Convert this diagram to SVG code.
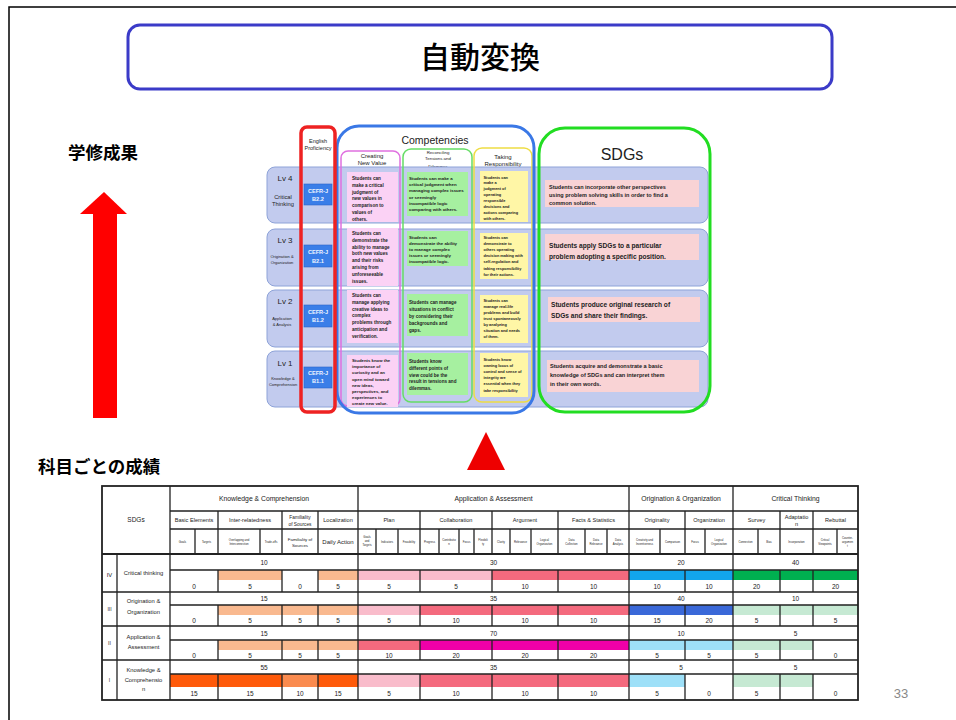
<svg xmlns="http://www.w3.org/2000/svg" width="956" height="720" viewBox="0 0 956 720">
<style>
.jp{font-family:"Noto Sans CJK JP","Noto Sans CJK SC",sans-serif;fill:#000}
.s{font-family:"Liberation Sans",Arial,sans-serif;fill:#222}
.ct{font-family:"Liberation Sans",Arial,sans-serif;font-weight:bold;fill:#222;font-size:4.6px}
.band{fill:#c2cbee;stroke:#8ea3d8;stroke-width:1}
.cefr{fill:#3a7ee8;stroke:#2c64c8;stroke-width:0.6}
.cw{font-family:"Liberation Sans",Arial,sans-serif;font-weight:bold;fill:#eef3ff;font-size:5.6px;text-anchor:middle}
.t{font-family:"Liberation Sans",Arial,sans-serif;fill:#222;text-anchor:middle}
.tl{fill:none;stroke:#222;stroke-width:1.3}
</style>
<rect width="956" height="720" fill="#fff"/>
<path d="M9,720 V7 H956" fill="none" stroke="#000" stroke-width="1.5"/>

<g id="title">
<rect x="128" y="25" width="704" height="64" rx="12" fill="#fff" stroke="#3b3bc8" stroke-width="3"/>
<text class="jp" x="480" y="68" font-size="30" font-weight="500" text-anchor="middle">自動変換</text>
</g>

<g id="label-outcome"><text class="jp" x="68" y="159" font-size="17.5" font-weight="bold">学修成果</text></g>
<g id="label-grades"><text class="jp" x="38" y="473" font-size="17.5" font-weight="bold">科目ごとの成績</text></g>
<g id="page-number"><text class="s" x="901" y="698" font-size="13" text-anchor="middle" style="fill:#888">33</text></g>

<g id="connectors">
<rect x="93" y="213" width="24" height="205" fill="#ff0000"/>
<polygon points="80,214 104,192 127,214" fill="#ff0000"/>
<polygon points="467,470 486,432 505,470" fill="#ee0000"/>
</g>

<g id="competency-matrix">
<text class="s" x="318" y="143" font-size="5.5" text-anchor="middle">English</text>
<text class="s" x="318" y="149.5" font-size="5.5" text-anchor="middle">Proficiency</text>
<text class="s" x="435" y="144" font-size="10.5" text-anchor="middle">Competencies</text>
<text class="s" x="372" y="158" font-size="6" text-anchor="middle">Creating</text>
<text class="s" x="372" y="165" font-size="6" text-anchor="middle">New Value</text>
<text class="s" x="438" y="154" font-size="4.4" text-anchor="middle">Reconciling</text>
<text class="s" x="438" y="160" font-size="4.4" text-anchor="middle">Tensions and</text>
<text class="s" x="438" y="168" font-size="4.4" text-anchor="middle">Dilemmas</text>
<text class="s" x="503" y="159" font-size="6" text-anchor="middle">Taking</text>
<text class="s" x="503" y="165.5" font-size="6" text-anchor="middle">Responsibility</text>
<text class="s" x="622" y="160" font-size="16" text-anchor="middle">SDGs</text>

<g id="row-lv4"><rect class="band" x="267" y="167" width="441" height="56" rx="8"/>
<text class="s" x="285" y="181" font-size="8" text-anchor="middle">Lv 4</text>
<text class="s" x="283" y="199" font-size="5.8" text-anchor="middle">Critical</text>
<text class="s" x="283" y="206" font-size="5.8" text-anchor="middle">Thinking</text></g>
<g id="row-lv3"><rect class="band" x="267" y="229" width="441" height="57" rx="8"/>
<text class="s" x="285" y="243" font-size="8" text-anchor="middle">Lv 3</text>
<text class="s" x="282" y="257.5" font-size="4" text-anchor="middle">Origination &amp;</text>
<text class="s" x="282" y="263.5" font-size="4" text-anchor="middle">Organization</text></g>
<g id="row-lv2"><rect class="band" x="267" y="290" width="441" height="57" rx="8"/>
<text class="s" x="285" y="304" font-size="8" text-anchor="middle">Lv 2</text>
<text class="s" x="282" y="319.5" font-size="4" text-anchor="middle">Application</text>
<text class="s" x="282" y="325.5" font-size="4" text-anchor="middle">&amp; Analysis</text></g>
<g id="row-lv1"><rect class="band" x="267" y="351" width="441" height="56" rx="8"/>
<text class="s" x="285" y="366" font-size="8" text-anchor="middle">Lv 1</text>
<text class="s" x="283" y="379.5" font-size="4" text-anchor="middle">Knowledge &amp;</text>
<text class="s" x="283" y="385.5" font-size="4" text-anchor="middle">Comprehension</text></g>

<rect x="341" y="151" width="59" height="255" rx="7" fill="none" stroke="#e070e0" stroke-width="1.5"/>
<rect x="403" y="149" width="69" height="253" rx="8" fill="none" stroke="#66dd66" stroke-width="1.5"/>
<rect x="474" y="148" width="58" height="254" rx="8" fill="none" stroke="#eedd44" stroke-width="1.5"/>

<g id="creating-cells" fill="#fbd2f5">
<rect x="347" y="172" width="51" height="50"/>
<rect x="347" y="228" width="51" height="58"/>
<rect x="347" y="290" width="51" height="53"/>
<rect x="347" y="355" width="51" height="52"/>
</g>
<g id="reconciling-cells" fill="#a6f0a0">
<rect x="407" y="172" width="61" height="44"/>
<rect x="407" y="231" width="61" height="35"/>
<rect x="407" y="294" width="61" height="42"/>
<rect x="407" y="353" width="61" height="42"/>
</g>
<g id="taking-cells" fill="#fff6a6">
<rect x="480" y="171" width="48" height="51"/>
<rect x="480" y="233" width="48" height="46"/>
<rect x="480" y="295" width="48" height="48"/>
<rect x="480" y="353" width="48" height="44"/>
</g>
<g id="sdg-cells" fill="#f9d3d5">
<rect x="545" y="180" width="154" height="27"/>
<rect x="545" y="234" width="154" height="26"/>
<rect x="548" y="297" width="152" height="25"/>
<rect x="547" y="360" width="152" height="32"/>
</g>

<g id="creating-text">
<text class="ct" y="180"><tspan x="352">Students can</tspan><tspan x="352" dy="6.8">make a critical</tspan><tspan x="352" dy="6.8">judgment of</tspan><tspan x="352" dy="6.8">new values in</tspan><tspan x="352" dy="6.8">comparison to</tspan><tspan x="352" dy="6.8">values of</tspan><tspan x="352" dy="6.8">others.</tspan></text>
<text class="ct" y="235"><tspan x="352">Students can</tspan><tspan x="352" dy="6.8">demonstrate the</tspan><tspan x="352" dy="6.8">ability to manage</tspan><tspan x="352" dy="6.8">both new values</tspan><tspan x="352" dy="6.8">and their risks</tspan><tspan x="352" dy="6.8">arising from</tspan><tspan x="352" dy="6.8">unforeseeable</tspan><tspan x="352" dy="6.8">issues.</tspan></text>
<text class="ct" y="297"><tspan x="352">Students can</tspan><tspan x="352" dy="6.8">manage applying</tspan><tspan x="352" dy="6.8">creative ideas to</tspan><tspan x="352" dy="6.8">complex</tspan><tspan x="352" dy="6.8">problems through</tspan><tspan x="352" dy="6.8">anticipation and</tspan><tspan x="352" dy="6.8">verification.</tspan></text>
<text class="ct" y="362" style="font-size:4.3px"><tspan x="352">Students know the</tspan><tspan x="352" dy="6.2">importance of</tspan><tspan x="352" dy="6.2">curiosity and an</tspan><tspan x="352" dy="6.2">open mind toward</tspan><tspan x="352" dy="6.2">new ideas,</tspan><tspan x="352" dy="6.2">perspectives, and</tspan><tspan x="352" dy="6.2">experiences to</tspan><tspan x="352" dy="6.2">create new value.</tspan></text>
</g>
<g id="reconciling-text">
<text class="ct" y="180" style="font-size:4.4px"><tspan x="409">Students can make a</tspan><tspan x="409" dy="6.2">critical judgment when</tspan><tspan x="409" dy="6.2">managing complex issues</tspan><tspan x="409" dy="6.2">or seemingly</tspan><tspan x="409" dy="6.2">incompatible logic</tspan><tspan x="409" dy="6.2">comparing with others.</tspan></text>
<text class="ct" y="239" style="font-size:4.4px"><tspan x="409">Students can</tspan><tspan x="409" dy="6.1">demonstrate the ability</tspan><tspan x="409" dy="6.1">to manage complex</tspan><tspan x="409" dy="6.1">issues or seemingly</tspan><tspan x="409" dy="6.1">incompatible logic.</tspan></text>
<text class="ct" y="304"><tspan x="409">Students can manage</tspan><tspan x="409" dy="7">situations in conflict</tspan><tspan x="409" dy="7">by considering their</tspan><tspan x="409" dy="7">backgrounds and</tspan><tspan x="409" dy="7">gaps.</tspan></text>
<text class="ct" y="363"><tspan x="409">Students know</tspan><tspan x="409" dy="6.8">different points of</tspan><tspan x="409" dy="6.8">view could be the</tspan><tspan x="409" dy="6.8">result in tensions and</tspan><tspan x="409" dy="6.8">dilemmas.</tspan></text>
</g>
<g id="taking-text">
<text class="ct" y="178.5" style="font-size:3.9px"><tspan x="483.5">Students can</tspan><tspan x="483.5" dy="5.9">make a</tspan><tspan x="483.5" dy="5.9">judgment of</tspan><tspan x="483.5" dy="5.9">operating</tspan><tspan x="483.5" dy="5.9">responsible</tspan><tspan x="483.5" dy="5.9">decisions and</tspan><tspan x="483.5" dy="5.9">actions comparing</tspan><tspan x="483.5" dy="5.9">with others.</tspan></text>
<text class="ct" y="239" style="font-size:3.9px"><tspan x="483.5">Students can</tspan><tspan x="483.5" dy="6.1">demonstrate to</tspan><tspan x="483.5" dy="6.1">others operating</tspan><tspan x="483.5" dy="6.1">decision making with</tspan><tspan x="483.5" dy="6.1">self-regulation and</tspan><tspan x="483.5" dy="6.1">taking responsibility</tspan><tspan x="483.5" dy="6.1">for their actions.</tspan></text>
<text class="ct" y="301.5" style="font-size:3.9px"><tspan x="483.5">Students can</tspan><tspan x="483.5" dy="6">manage real-life</tspan><tspan x="483.5" dy="6">problems and build</tspan><tspan x="483.5" dy="6">trust spontaneously</tspan><tspan x="483.5" dy="6">by analyzing</tspan><tspan x="483.5" dy="6">situation and needs</tspan><tspan x="483.5" dy="6">of them.</tspan></text>
<text class="ct" y="360.5" style="font-size:3.9px"><tspan x="483.5">Students know</tspan><tspan x="483.5" dy="6.2">owning locus of</tspan><tspan x="483.5" dy="6.2">control and sense of</tspan><tspan x="483.5" dy="6.2">integrity are</tspan><tspan x="483.5" dy="6.2">essential when they</tspan><tspan x="483.5" dy="6.2">take responsibility</tspan></text>
</g>
<g id="sdg-text">
<text class="ct" y="189" style="font-size:5.5px"><tspan x="549">Students can incorporate other perspectives</tspan><tspan x="549" dy="8">using problem solving skills in order to find a</tspan><tspan x="549" dy="8">common solution.</tspan></text>
<text class="ct" y="247.5" style="font-size:6.6px"><tspan x="549">Students apply SDGs to a particular</tspan><tspan x="549" dy="11">problem adopting a specific position.</tspan></text>
<text class="ct" y="306.5" style="font-size:6.6px"><tspan x="551">Students produce original research of</tspan><tspan x="551" dy="11">SDGs and share their findings.</tspan></text>
<text class="ct" y="368" style="font-size:5.6px"><tspan x="550">Students acquire and demonstrate a basic</tspan><tspan x="550" dy="9">knowledge of SDGs and can interpret them</tspan><tspan x="550" dy="9">in their own words.</tspan></text>
</g>

<rect x="337" y="126" width="197" height="287" rx="22" fill="none" stroke="#3a78e6" stroke-width="3"/>
<rect x="539" y="128" width="171" height="284" rx="26" fill="none" stroke="#22dd22" stroke-width="3"/>
<rect x="301" y="127" width="34" height="285" rx="6" fill="none" stroke="#ee2222" stroke-width="3.5"/>

<g id="cefr-b22"><rect class="cefr" x="304" y="184" width="28" height="21"/><text class="cw" x="318" y="193">CEFR-J</text><text class="cw" x="318" y="200.5">B2.2</text></g>
<g id="cefr-b21"><rect class="cefr" x="304" y="245" width="28" height="22"/><text class="cw" x="318" y="254">CEFR-J</text><text class="cw" x="318" y="262.5">B2.1</text></g>
<g id="cefr-b12"><rect class="cefr" x="304" y="305" width="28" height="22"/><text class="cw" x="318" y="314">CEFR-J</text><text class="cw" x="318" y="322">B1.2</text></g>
<g id="cefr-b11"><rect class="cefr" x="304" y="367" width="28" height="21"/><text class="cw" x="318" y="375">CEFR-J</text><text class="cw" x="318" y="382.5">B1.1</text></g>
</g>

<g id="grade-table">
<rect x="102" y="486" width="756" height="214" fill="#fff"/>
<g id="bands">
<rect x="218" y="570" width="64" height="10" fill="#f9b98f"/>
<rect x="318" y="570" width="40" height="10" fill="#f9b98f"/>
<rect x="358" y="570" width="134" height="10" fill="#f9bccb"/>
<rect x="492" y="570" width="137" height="10" fill="#f46a7e"/>
<rect x="629" y="570" width="104" height="10" fill="#12a5ec"/>
<rect x="733" y="570" width="125" height="10" fill="#00b050"/>
<rect x="218" y="605" width="140" height="10" fill="#f9b98f"/>
<rect x="358" y="605" width="62" height="10" fill="#f9bccb"/>
<rect x="420" y="605" width="209" height="10" fill="#f46a7e"/>
<rect x="629" y="605" width="104" height="10" fill="#3a68d8"/>
<rect x="733" y="605" width="125" height="10" fill="#c6e9d3"/>
<rect x="218" y="640" width="140" height="10" fill="#f9b98f"/>
<rect x="358" y="640" width="62" height="10" fill="#f46a7e"/>
<rect x="420" y="640" width="209" height="10" fill="#f000a8"/>
<rect x="629" y="640" width="104" height="10" fill="#9ee0f8"/>
<rect x="733" y="640" width="80" height="10" fill="#c6e9d3"/>
<rect x="170" y="674" width="112" height="13" fill="#ff5a0a"/>
<rect x="282" y="674" width="36" height="13" fill="#fa8b4f"/>
<rect x="318" y="674" width="40" height="13" fill="#ff5a0a"/>
<rect x="358" y="674" width="62" height="13" fill="#f9bccb"/>
<rect x="420" y="674" width="209" height="13" fill="#f46a7e"/>
<rect x="629" y="674" width="56" height="13" fill="#9ee0f8"/>
<rect x="733" y="674" width="80" height="13" fill="#c6e9d3"/>
</g>
<g id="table-lines" class="tl">
<rect x="102" y="486" width="756" height="214" stroke-width="1.8"/>
<path d="M170,511H858M170,529H858M170,570H858M102,592H858M170,605H858M102,626H858M170,640H858M102,660H858M170,674H858"/>
<path d="M102,554H858" stroke-width="2"/>
<path d="M117,554V700M170,486V700M358,486V700M629,486V700M733,486V700"/>
<path d="M218,511V554M282,511V554M318,511V554M420,511V554M492,511V554M558,511V554M685,511V554M780,511V554M813,511V554"/>
<path d="M218,570V592M282,570V592M318,570V592M420,570V592M492,570V592M558,570V592M685,570V592M780,570V592M813,570V592"/>
<path d="M218,605V626M282,605V626M318,605V626M420,605V626M492,605V626M558,605V626M685,605V626M780,605V626M813,605V626"/>
<path d="M218,640V660M282,640V660M318,640V660M420,640V660M492,640V660M558,640V660M685,640V660M780,640V660M813,640V660"/>
<path d="M218,674V700M282,674V700M318,674V700M420,674V700M492,674V700M558,674V700M685,674V700M780,674V700M813,674V700"/>
<path d="M195,529V554M260,529V554M376,529V554M398,529V554M439,529V554M459,529V554M474,529V554M510,529V554M531,529V554M585,529V554M607,529V554M660,529V554M705,529V554M758,529V554M837,529V554"/>
</g>
<g id="table-headers">
<text class="t" x="136" y="522" font-size="6.5">SDGs</text>
<text class="t" x="264" y="501" font-size="6.8">Knowledge &amp; Comprehension</text>
<text class="t" x="493.5" y="501" font-size="6.8">Application &amp; Assessment</text>
<text class="t" x="681" y="501" font-size="6.8">Origination &amp; Organization</text>
<text class="t" x="795.5" y="501" font-size="6.8">Critical Thinking</text>
<g font-size="5.6">
<text class="t" x="194" y="522">Basic Elements</text>
<text class="t" x="250" y="522">Inter-relatedness</text>
<text class="t" x="300" y="518.5" font-size="4.8">Familiality</text>
<text class="t" x="300" y="525.5" font-size="4.8">of Sources</text>
<text class="t" x="338" y="522">Localization</text>
<text class="t" x="389" y="522">Plan</text>
<text class="t" x="456" y="522">Collaboration</text>
<text class="t" x="525" y="522">Argument</text>
<text class="t" x="593.5" y="522">Facts &amp; Statistics</text>
<text class="t" x="657" y="522">Originality</text>
<text class="t" x="709" y="522">Organization</text>
<text class="t" x="756.5" y="522">Survey</text>
<text class="t" x="796.5" y="518.5">Adaptatio</text>
<text class="t" x="796.5" y="525.5">n</text>
<text class="t" x="835.5" y="522">Rebuttal</text>
</g>
<g font-size="2.8">
<text class="t" x="182.5" y="543">Goals</text>
<text class="t" x="206.5" y="543">Targets</text>
<text class="t" x="239" y="541">Overlapping and</text>
<text class="t" x="239" y="545">Interconnection</text>
<text class="t" x="271" y="543">Trade-offs</text>
<text class="t" x="300" y="540.5" font-size="4.4">Familiality of</text>
<text class="t" x="300" y="546.5" font-size="4.4">Sources</text>
<text class="t" x="338" y="543.5" font-size="6">Daily Action</text>
<text class="t" x="367" y="538">Goals</text>
<text class="t" x="367" y="542">and</text>
<text class="t" x="367" y="546">Targets</text>
<text class="t" x="387" y="543">Indicators</text>
<text class="t" x="409" y="543">Feasibility</text>
<text class="t" x="429.5" y="543">Progress</text>
<text class="t" x="449" y="541">Contributio</text>
<text class="t" x="449" y="545">n</text>
<text class="t" x="466.5" y="543">Focus</text>
<text class="t" x="483" y="541">Flexibili</text>
<text class="t" x="483" y="545">ty</text>
<text class="t" x="501" y="543">Clarity</text>
<text class="t" x="520.5" y="543">Relevance</text>
<text class="t" x="544.5" y="541">Logical</text>
<text class="t" x="544.5" y="545">Organization</text>
<text class="t" x="571.5" y="541">Data</text>
<text class="t" x="571.5" y="545">Collection</text>
<text class="t" x="596" y="541">Data</text>
<text class="t" x="596" y="545">Relevance</text>
<text class="t" x="618" y="541">Data</text>
<text class="t" x="618" y="545">Analysis</text>
<text class="t" x="644.5" y="541">Creativity and</text>
<text class="t" x="644.5" y="545">Inventiveness</text>
<text class="t" x="672.5" y="543">Comparison</text>
<text class="t" x="695" y="543">Focus</text>
<text class="t" x="719" y="541">Logical</text>
<text class="t" x="719" y="545">Organization</text>
<text class="t" x="745.5" y="543">Connection</text>
<text class="t" x="769" y="543">Bias</text>
<text class="t" x="796.5" y="543">Incorporation</text>
<text class="t" x="825" y="541">Critical</text>
<text class="t" x="825" y="545">Viewpoints</text>
<text class="t" x="847.5" y="539">Counter-</text>
<text class="t" x="847.5" y="543">argumen</text>
<text class="t" x="847.5" y="547">t</text>
</g>
</g>
<g id="row-iv" font-size="6.5">
<text class="t" x="109.5" y="577" font-size="5.8">IV</text>
<text class="t" x="143.5" y="575" font-size="5.8">Critical thinking</text>
<text class="t" x="264" y="565">10</text><text class="t" x="493.5" y="565">30</text><text class="t" x="681" y="565">20</text><text class="t" x="795.5" y="565">40</text>
<text class="t" x="194" y="589">0</text><text class="t" x="250" y="589">5</text><text class="t" x="300" y="589">0</text><text class="t" x="338" y="589">5</text>
<text class="t" x="389" y="589">5</text><text class="t" x="456" y="589">5</text><text class="t" x="525" y="589">10</text><text class="t" x="593.5" y="589">10</text>
<text class="t" x="657" y="589">10</text><text class="t" x="709" y="589">10</text>
<text class="t" x="756.5" y="589">20</text><text class="t" x="835.5" y="589">20</text>
</g>
<g id="row-iii" font-size="6.5">
<text class="t" x="109.5" y="611" font-size="5">III</text>
<text class="t" x="143.5" y="603" font-size="5.8">Origination &amp;</text>
<text class="t" x="143.5" y="614" font-size="5.8">Organization</text>
<text class="t" x="264" y="601">15</text><text class="t" x="493.5" y="601">35</text><text class="t" x="681" y="601">40</text><text class="t" x="795.5" y="601">10</text>
<text class="t" x="194" y="623">0</text><text class="t" x="250" y="623">5</text><text class="t" x="300" y="623">5</text><text class="t" x="338" y="623">5</text>
<text class="t" x="389" y="623">5</text><text class="t" x="456" y="623">10</text><text class="t" x="525" y="623">10</text><text class="t" x="593.5" y="623">10</text>
<text class="t" x="657" y="623">15</text><text class="t" x="709" y="623">20</text>
<text class="t" x="756.5" y="623">5</text><text class="t" x="835.5" y="623">5</text>
</g>
<g id="row-ii" font-size="6.5">
<text class="t" x="109.5" y="645" font-size="5">II</text>
<text class="t" x="143.5" y="639" font-size="5.8">Application &amp;</text>
<text class="t" x="143.5" y="649" font-size="5.8">Assessment</text>
<text class="t" x="264" y="636">15</text><text class="t" x="493.5" y="636">70</text><text class="t" x="681" y="636">10</text><text class="t" x="795.5" y="636">5</text>
<text class="t" x="194" y="658">0</text><text class="t" x="250" y="658">5</text><text class="t" x="300" y="658">5</text><text class="t" x="338" y="658">5</text>
<text class="t" x="389" y="658">10</text><text class="t" x="456" y="658">20</text><text class="t" x="525" y="658">20</text><text class="t" x="593.5" y="658">20</text>
<text class="t" x="657" y="658">5</text><text class="t" x="709" y="658">5</text>
<text class="t" x="756.5" y="658">5</text><text class="t" x="835.5" y="658">0</text>
</g>
<g id="row-i" font-size="6.5">
<text class="t" x="109.5" y="682" font-size="5">I</text>
<text class="t" x="143.5" y="672" font-size="5.8">Knowledge &amp;</text>
<text class="t" x="143.5" y="681.5" font-size="5.8">Comprehensio</text>
<text class="t" x="143.5" y="691" font-size="5.8">n</text>
<text class="t" x="264" y="670">55</text><text class="t" x="493.5" y="670">35</text><text class="t" x="681" y="670">5</text><text class="t" x="795.5" y="670">5</text>
<text class="t" x="194" y="696">15</text><text class="t" x="250" y="696">15</text><text class="t" x="300" y="696">10</text><text class="t" x="338" y="696">15</text>
<text class="t" x="389" y="696">5</text><text class="t" x="456" y="696">10</text><text class="t" x="525" y="696">10</text><text class="t" x="593.5" y="696">10</text>
<text class="t" x="657" y="696">5</text><text class="t" x="709" y="696">0</text>
<text class="t" x="756.5" y="696">5</text><text class="t" x="835.5" y="696">0</text>
</g>
</g>
</svg>
